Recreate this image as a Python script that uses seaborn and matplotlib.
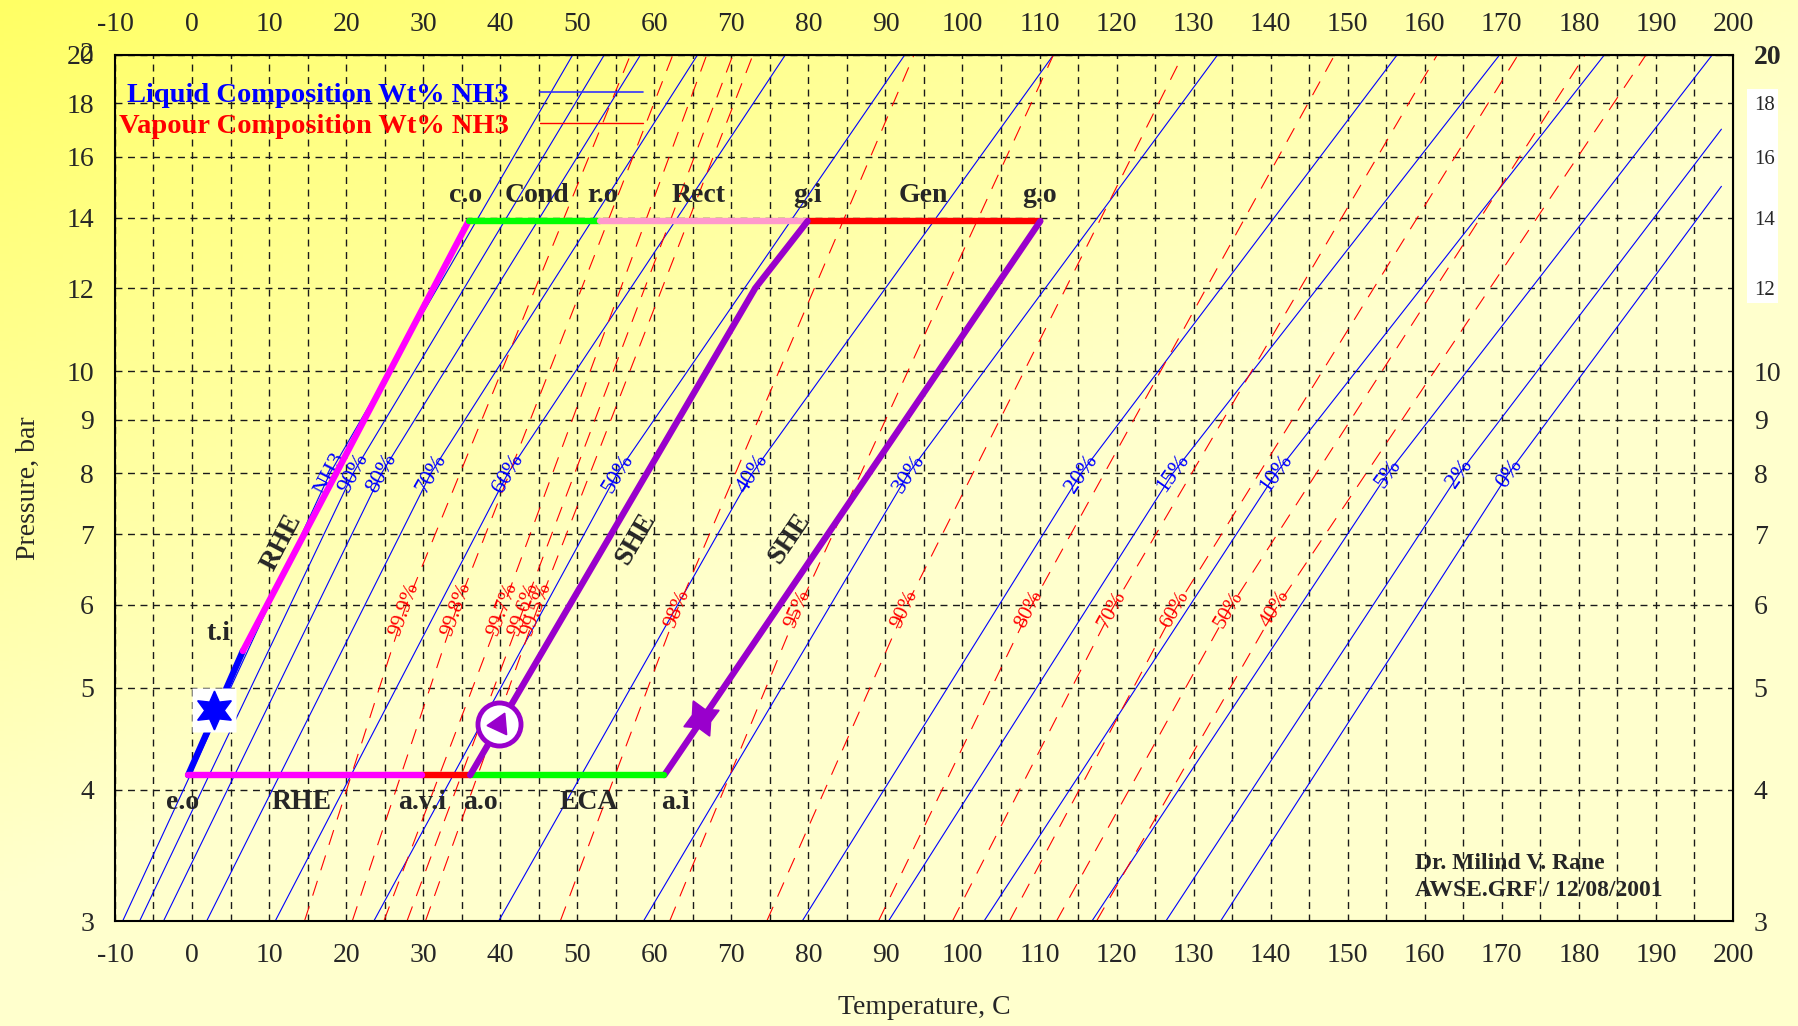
import numpy as np
import pandas as pd
import matplotlib
matplotlib.use("Agg")
import matplotlib.pyplot as plt
import matplotlib.transforms as mtransforms
from matplotlib.lines import Line2D
from matplotlib.patches import Rectangle
from matplotlib.ticker import NullLocator, NullFormatter
import seaborn as sns

# liquid composition lines (wt% NH3): temperature, C, read at 3 bar, 8 bar and at line end
BLUE_LABELS = ["NH3", "90%", "80%", "70%", "60%", "50%", "40%", "30%",
               "20%", "15%", "10%", "5%", "2%", "0%"]
BLUE_T_3BAR = [-9.0, -6.8, -3.7, 1.9, 10.8, 23.6, 39.8, 58.6, 79.2, 90.4, 102.8, 116.8, 126.4, 133.5]
BLUE_T_8BAR = [17.9, 20.9, 24.6, 31.0, 41.0, 55.2, 72.7, 93.0, 115.4, 127.3, 140.7, 155.2, 164.5, 170.9]
BLUE_T_END = [49.4, 53.5, 58.2, 65.6, 77.0, 92.5, 111.8, 133.1, 156.4, 169.7, 183.3, 197.3, 198.5, 198.5]
BLUE_P_END = [20, 20, 20, 20, 20, 20, 20, 20, 20, 20, 20, 20, 17.0, 15.0]

# vapour composition lines (wt% NH3): temperature read at 3, 6 and 20 bar
RED_LABELS = ["99.9%", "99.8%", "99.7%", "99.6%", "99.5%", "98%", "95%", "90%",
              "80%", "70%", "60%", "50%", "40%"]
RED_T_3BAR = [14.6, 20.8, 24.9, 27.9, 30.3, 47.8, 62.0, 74.6, 89.1, 98.7, 106.1, 112.2, 117.4]
RED_T_6BAR = [27.6, 34.3, 40.3, 43.0, 44.8, 63.0, 78.7, 92.5, 108.7, 119.4, 127.6, 134.6, 140.6]
RED_T_20BAR = [56.9, 62.4, 66.8, 70.2, 72.8, 93.7, 111.8, 128.6, 148.3, 161.6, 172.1, 180.8, 188.7]
RED_P_LABEL = 5.94

# cycle segments (T, C / P, bar)
SEG_T = {
    "e.o-t.i": [-0.5, 6.6],
    "t.i-c.o": [6.6, 35.9],
    "c.o-r.o": [35.9, 53.0],
    "r.o-g.i": [53.0, 79.9],
    "g.i-g.o": [79.9, 110.1],
    "g.o-a.i": [110.1, 61.3],
    "a.i-a.o": [61.3, 36.1],
    "a.o-a.v.i": [36.1, 29.9],
    "a.v.i-e.o": [29.9, -0.5],
    "a.o-g.i": [36.1, 73.1, 79.9],
}
SEG_P = {
    "e.o-t.i": [4.13, 5.42],
    "t.i-c.o": [5.42, 13.9],
    "c.o-r.o": [13.9, 13.9],
    "r.o-g.i": [13.9, 13.9],
    "g.i-g.o": [13.9, 13.9],
    "g.o-a.i": [13.9, 4.13],
    "a.i-a.o": [4.13, 4.13],
    "a.o-a.v.i": [4.13, 4.13],
    "a.v.i-e.o": [4.13, 4.13],
    "a.o-g.i": [4.13, 12.0, 13.9],
}
SEG_COLORS = {
    "e.o-t.i": "#0000FF", "t.i-c.o": "#FF00FF", "c.o-r.o": "#00FF00",
    "r.o-g.i": "#FF99CC", "g.i-g.o": "#FF0000", "g.o-a.i": "#9900CC",
    "a.i-a.o": "#00FF00", "a.o-a.v.i": "#FF0000", "a.v.i-e.o": "#FF00FF",
    "a.o-g.i": "#9900CC",
}

# valve, pump and the star marker on the weak solution line
MARK_T = [2.8, 39.8, 66.0]
MARK_P = [4.76, 4.62, 4.68]

POINT_LABELS = ["c.o", "Cond", "r.o", "Rect", "g.i", "Gen", "g.o",
                "t.i", "e.o", "RHE", "a.v.i", "a.o", "ECA", "a.i"]
POINT_T = [35.5, 44.8, 53.3, 65.7, 79.9, 94.9, 110.0, 3.4, -1.2, 14.2, 29.9, 37.5, 51.5, 62.8]
POINT_P = [14.7, 14.7, 14.7, 14.7, 14.7, 14.7, 14.7, 5.63, 3.89, 3.89, 3.89, 3.89, 3.89, 3.89]

HX_LABELS = ["RHE", "SHE", "SHE"]
HX_T = [11.6, 57.6, 77.6]
HX_P = [6.87, 6.93, 6.93]
HX_ALONG = ["t.i-c.o", "a.o-g.i", "g.o-a.i"]

X_TICKS = list(range(-10, 201, 10))
X_MINOR = list(range(-5, 200, 10))
P_TICKS = [3, 4, 5, 6, 7, 8, 9, 10, 12, 14, 16, 18, 20]
P_SMALL = [12, 14, 16, 18]

sns.set_style("white")
plt.rcParams["font.family"] = ["Liberation Serif", "DejaVu Serif"]
plt.rcParams["axes.unicode_minus"] = False

fig = plt.figure(figsize=(17.99, 10.26), dpi=100)

# yellow background gradient
bg = fig.add_axes([0, 0, 1, 1], zorder=-10)
U, V = np.meshgrid(np.linspace(0, 1, 400), np.linspace(0, 1, 250))
g = np.clip(0.85 * U + 1.15 * V, 0, 1)
img = np.dstack([np.ones_like(g), np.ones_like(g), (100 + 105 * g) / 255])
bg.imshow(img, aspect="auto", extent=[0, 1, 0, 1], origin="upper")
bg.axis("off")

ax = fig.add_axes([0.0639, 0.1023, 0.8994, 0.8441])
ax.patch.set_alpha(0)
ax.set_yscale("log")

rows = []
for i, lab in enumerate(BLUE_LABELS):
    rows += [(lab, BLUE_T_3BAR[i], 3), (lab, BLUE_T_8BAR[i], 8), (lab, BLUE_T_END[i], BLUE_P_END[i])]
blue = pd.DataFrame(rows, columns=["line", "T", "P"])
rows = []
for i, lab in enumerate(RED_LABELS):
    rows += [(lab, RED_T_3BAR[i], 3), (lab, RED_T_6BAR[i], RED_P_LABEL), (lab, RED_T_20BAR[i], 20)]
red = pd.DataFrame(rows, columns=["line", "T", "P"])

sns.lineplot(data=blue, x="T", y="P", units="line", estimator=None, sort=False,
             color="#0000FF", lw=0.8, ax=ax, legend=False, zorder=2)
sns.lineplot(data=red, x="T", y="P", units="line", estimator=None, sort=False,
             color="#FF0000", lw=0.8, ls=(0, (14, 10)), ax=ax, legend=False, zorder=2)

cyc = pd.DataFrame([(k, t, p) for k in SEG_T for t, p in zip(SEG_T[k], SEG_P[k])],
                   columns=["seg", "T", "P"])
sns.lineplot(data=cyc, x="T", y="P", hue="seg", palette=SEG_COLORS, estimator=None,
             sort=False, lw=4.6, solid_capstyle="round", ax=ax, legend=False, zorder=4)

ax.set_xlim(-10, 200)
ax.set_ylim(3, 20)
ax.set_xticks(X_TICKS)
ax.set_xticks(X_MINOR, minor=True)
ax.set_yticks(P_TICKS)
ax.set_yticklabels([str(p) for p in P_TICKS])
ax.yaxis.set_minor_locator(NullLocator())
ax.yaxis.set_minor_formatter(NullFormatter())
ax.grid(True, which="both", color="#1a1a1a", ls=(0, (5, 4)), lw=1)
ax.set_axisbelow(True)
ax.tick_params(which="both", length=0, labelsize=20)
ax.tick_params(axis="x", pad=16)
ax.tick_params(axis="y", pad=15)
for s in ax.spines.values():
    s.set_color("black")
    s.set_linewidth(1.5)

top = ax.secondary_xaxis("top")
top.set_xticks(X_TICKS)
top.tick_params(length=0, labelsize=20, pad=13)

right = ax.secondary_yaxis("right")
right.set_yticks(P_TICKS, labels=[str(p) for p in P_TICKS])
right.yaxis.set_minor_locator(NullLocator())
right.yaxis.set_minor_formatter(NullFormatter())
right.tick_params(length=0, labelsize=20, pad=15)
for lab, p in zip(right.get_yticklabels(), P_TICKS):
    if p in P_SMALL:
        lab.set_fontsize(15)
    if p == 20:
        lab.set_fontweight("bold")
ax.add_patch(Rectangle((1.0087, 11.62), 0.0191, 18.58 - 11.62, facecolor="white",
                       edgecolor="none", transform=ax.get_yaxis_transform(),
                       clip_on=False, zorder=0))
# overprinted "2" on the left 20
ax.text(0, 20, "2", fontsize=20, ha="right", va="center",
        transform=mtransforms.offset_copy(ax.get_yaxis_transform(), fig=fig, x=-15, units="points"))

ax.set_xlabel("Temperature, C", fontsize=20)
ax.xaxis.set_label_coords(0.5, -0.085)
ax.set_ylabel("Pressure, bar", fontsize=20)
ax.yaxis.set_label_coords(-0.046, 0.5)


def screen_angle(t0, p0, t1, p1):
    (x0, y0), (x1, y1) = ax.transData.transform([(t0, p0), (t1, p1)])
    return np.degrees(np.arctan2(y1 - y0, x1 - x0))


for i, lab in enumerate(BLUE_LABELS):
    a = 0.5 * (screen_angle(BLUE_T_3BAR[i], 3, BLUE_T_8BAR[i], 8)
               + screen_angle(BLUE_T_8BAR[i], 8, BLUE_T_END[i], BLUE_P_END[i]))
    ax.text(BLUE_T_8BAR[i], 8, lab, color="#0000FF", fontsize=16.5, rotation=a,
            ha="center", va="center", rotation_mode="anchor", zorder=3)
for i, lab in enumerate(RED_LABELS):
    a = 0.5 * (screen_angle(RED_T_3BAR[i], 3, RED_T_6BAR[i], RED_P_LABEL)
               + screen_angle(RED_T_6BAR[i], RED_P_LABEL, RED_T_20BAR[i], 20))
    ax.text(RED_T_6BAR[i], RED_P_LABEL, lab, color="#FF0000", fontsize=15.5, rotation=a,
            ha="center", va="center", rotation_mode="anchor", zorder=3)

for lab, t, p in zip(POINT_LABELS, POINT_T, POINT_P):
    ax.text(t, p, lab, fontsize=20, fontweight="bold", ha="center", va="center", zorder=6)
for lab, t, p, seg in zip(HX_LABELS, HX_T, HX_P, HX_ALONG):
    ts, ps = SEG_T[seg], SEG_P[seg]
    a = screen_angle(ts[0], ps[0], ts[1], ps[1])
    if a < -90 or a > 90:
        a += 180
    ax.text(t, p, lab, fontsize=20, fontweight="bold", ha="center", va="center",
            rotation=a, rotation_mode="anchor", zorder=6)

# markers
ax.plot(MARK_T[0], MARK_P[0], marker="s", ms=32, mfc="white", mec="none", zorder=5)
ax.plot(MARK_T[0], MARK_P[0], marker=(6, 1, 0), ms=28, color="#0000FF", zorder=6)
ax.plot(MARK_T[1], MARK_P[1], marker="o", ms=31, mfc="white", mec="#9900CC", mew=3.5, zorder=5)
ax.plot(MARK_T[1], MARK_P[1], marker=(3, 0, -25), ms=18, color="#9900CC", zorder=6)
ax.plot(MARK_T[2], MARK_P[2], marker=(4, 1, 25), ms=28, color="#9900CC", zorder=6)

ax.text(158.7, 3.40, "Dr. Milind V. Rane", fontsize=17, fontweight="bold", va="center", zorder=6)
ax.text(158.7, 3.21, "AWSE.GRF / 12/08/2001", fontsize=17, fontweight="bold", va="center", zorder=6)

handles = [Line2D([], [], color="#3333FF", lw=1.2), Line2D([], [], color="#FF0000", lw=1)]
ax.legend(handles, ["Liquid Composition Wt% NH3", "Vapour Composition Wt% NH3"],
          loc="upper left", bbox_to_anchor=(-0.008, 0.988), frameon=False, markerfirst=False,
          handlelength=3.6, handletextpad=1.1, labelspacing=0.17, borderaxespad=0.2,
          prop={"family": "Liberation Serif", "weight": "bold", "size": 20.5},
          labelcolor=["#0000FF", "#FF0000"])

fig.savefig("out.png", dpi=100)
